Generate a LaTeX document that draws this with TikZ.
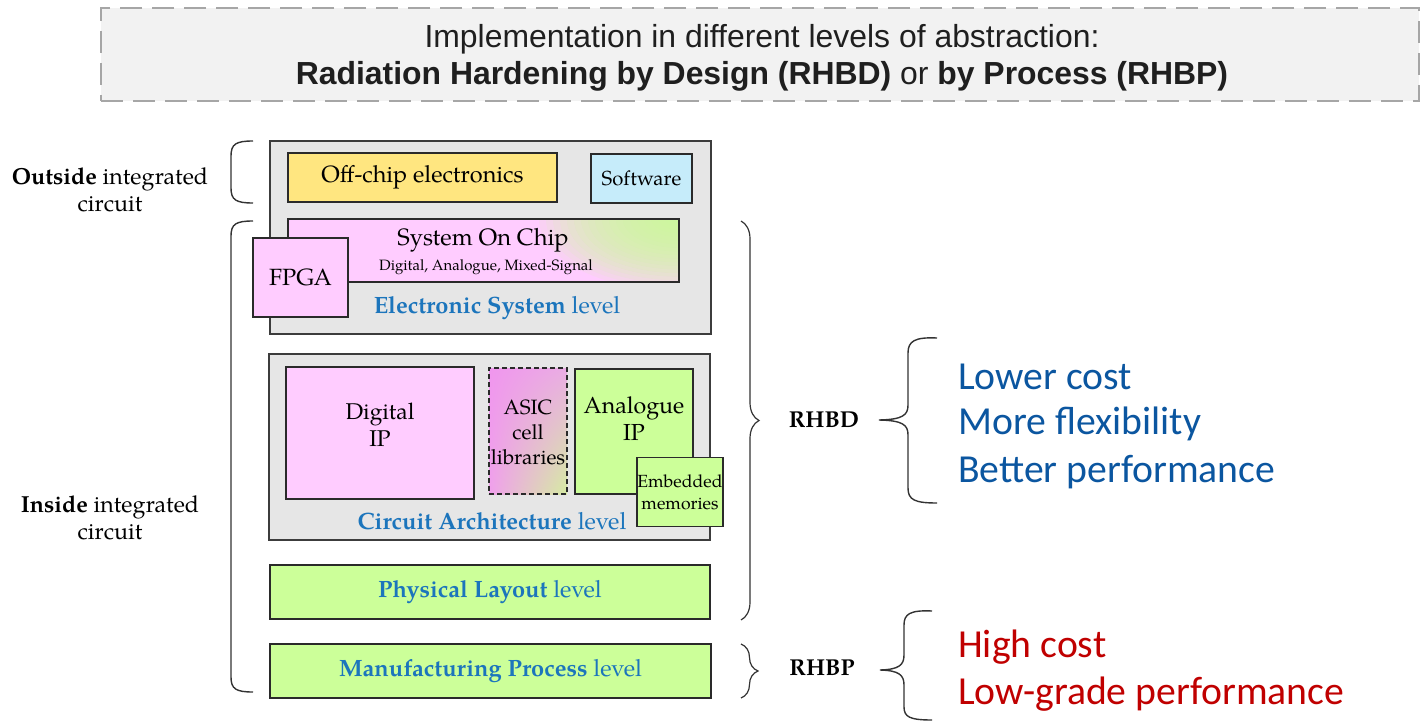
\documentclass[tikz,border=0pt]{standalone}
\usepackage{fontspec}
\setmainfont{TeX Gyre Pagella}
\newfontfamily\arialfont{Liberation Sans}
\newfontfamily\calibrifont{Carlito}
\usetikzlibrary{decorations.pathreplacing, shadings}

\definecolor{bannerfill}{HTML}{F2F2F2}
\definecolor{bannerdash}{HTML}{A6A6A6}
\definecolor{panelgray}{HTML}{E6E6E6}
\definecolor{panelline}{HTML}{3C3C3C}
\definecolor{blockline}{HTML}{2A2A2A}
\definecolor{offyellow}{HTML}{FFE680}
\definecolor{swblue}{HTML}{C6ECFA}
\definecolor{ippink}{HTML}{FFCCFF}
\definecolor{ipgreen}{HTML}{CCFF99}
\definecolor{asicul}{RGB}{240,150,238}
\definecolor{asicll}{RGB}{240,160,236}
\definecolor{asicur}{RGB}{234,172,228}
\definecolor{asiclr}{RGB}{214,236,162}
\definecolor{levelblue}{HTML}{1C75BC}
\definecolor{problue}{RGB}{11,86,160}
\definecolor{conred}{RGB}{192,0,0}
\definecolor{bracecol}{HTML}{333333}

\begin{document}
\begin{tikzpicture}[x=1pt,y=-1pt,
  panel/.style={draw=panelline, line width=1.3pt, fill=panelgray, inner sep=0pt},
  block/.style={draw=blockline, line width=1.5pt, inner sep=0pt},
  paltext/.style={font=\fontsize{23.5}{27}\selectfont, inner sep=0pt},
  lvltext/.style={text=levelblue, font=\fontsize{23.6}{27}\selectfont, inner sep=0pt},
  sidetext/.style={font=\fontsize{23.2}{27}\selectfont, align=center, inner sep=0pt},
  bracepath/.style={draw=bracecol, line width=1.4pt},
  pros/.style={text=problue, anchor=west, font=\calibrifont\fontsize{39.7}{44}\selectfont, inner sep=0pt},
  cons/.style={text=conred, anchor=west, font=\calibrifont\fontsize{39.7}{44}\selectfont, inner sep=0pt},
  method/.style={font=\bfseries\fontsize{23}{27}\selectfont, inner sep=0pt}]

\useasboundingbox (0,0) rectangle (1421,722);

% title banner
\node[draw=bannerdash, line width=2pt, dash pattern=on 22pt off 10pt, fill=bannerfill,
      minimum width=1318pt, minimum height=93pt, inner sep=0pt] (banner) at (760,54.5) {};
\node[font=\arialfont\fontsize{31.9}{37}\selectfont, align=center, text=black!88, inner sep=0pt] (title) at (762,58)
  {Implementation in different levels of abstraction:\\
   \textbf{Radiation Hardening by Design (RHBD)} or \textbf{by Process (RHBP)}};

% left side braces and labels
\draw[bracepath] (253,141) .. controls (236,141) and (231,144) .. (231,156) -- (231,188)
  .. controls (231,200) and (236,203) .. (253,203);
\draw[bracepath] (253,221) .. controls (236,221) and (231,224) .. (231,236) -- (231,677)
  .. controls (231,689) and (236,692) .. (253,692);
\node[sidetext] (outside) at (110,190) {\textbf{Outside} integrated\\circuit};
\node[sidetext] (inside) at (110,518) {\textbf{Inside} integrated\\circuit};

% electronic system level
\node[panel, minimum width=441pt, minimum height=193pt] (esys) at (490.5,237.5) {};
\node[block, fill=offyellow, minimum width=269pt, minimum height=49pt, paltext] (offchip) at (422.5,177.5) {Off-chip electronics};
\node[block, fill=swblue, minimum width=101pt, minimum height=49pt, font=\fontsize{20.3}{24}\selectfont] (software) at (641.5,178.5) {Software};
% system on chip: pink, blending into green at its upper right corner
\node[block, fill=ippink, minimum width=391pt, minimum height=63pt,
  path picture={\foreach \r in {1,...,20}
    \fill[ipgreen, opacity=0.11] (path picture bounding box.north east) ellipse [x radius=\r*7pt, y radius=\r*3.6pt];}] (soc) at (483.5,250.5) {};
\node[paltext, font=\fontsize{23.7}{27}\selectfont] (soctitle) at (483,240) {System On Chip};
\node[font=\fontsize{15}{18}\selectfont, inner sep=0pt] (socsub) at (486,267) {Digital, Analogue, Mixed-Signal};
\node[block, fill=ippink, minimum width=95pt, minimum height=79pt, paltext] (fpga) at (300.5,277.5) {FPGA};
\node[lvltext] (esyslabel) at (497,308) {\textbf{Electronic System} level};

% circuit architecture level
\node[panel, minimum width=441pt, minimum height=186pt] (carch) at (489.5,447) {};
\node[block, fill=ippink, minimum width=188pt, minimum height=132pt] (digip) at (380,433) {};
\node[paltext, align=center, font=\fontsize{22.8}{27}\selectfont] (digtext) at (380,425) {Digital\\IP};
\node[block, dashed, dash pattern=on 5pt off 3pt, minimum width=78pt, minimum height=126pt,
  upper left=asicul, lower left=asicll, upper right=asicur, lower right=asiclr] (asic) at (528,431) {};
\node[font=\fontsize{20.7}{25}\selectfont, align=center, inner sep=0pt] (asictext) at (528,432) {ASIC\\cell\\libraries};
\node[block, fill=ipgreen, minimum width=118pt, minimum height=125pt] (anaip) at (634,431.5) {};
\node[paltext, align=center, font=\fontsize{23.2}{27}\selectfont] (anatext) at (634,418.5) {Analogue\\IP};
\node[block, fill=ipgreen, minimum width=86pt, minimum height=69pt, align=center,
  font=\fontsize{17.6}{22}\selectfont] (embmem) at (680,492) {Embedded\\memories};
\node[lvltext] (calabel) at (492,521) {\textbf{Circuit Architecture} level};

% physical layout and manufacturing levels
\node[block, fill=ipgreen, minimum width=440pt, minimum height=54pt, lvltext] (layout) at (490,592) {\textbf{Physical Layout} level};
\node[block, fill=ipgreen, minimum width=441pt, minimum height=54pt, lvltext] (manuf) at (490.5,671) {\textbf{Manufacturing Process} level};

% hardening approaches
\draw[bracepath, line width=1.2pt, decorate, decoration={brace, amplitude=18pt}] (741,221) -- (741,620);
\draw[bracepath, line width=1.2pt, decorate, decoration={brace, amplitude=17pt}] (741,644) -- (741,698);
\node[method] (rhbd) at (824,420) {RHBD};
\node[method] (rhbp) at (822,668) {RHBP};

% properties of each approach
\draw[bracepath] (937,338) .. controls (915,337) and (908,341) .. (908,353) -- (908,405)
  .. controls (908,415) and (903,419.5) .. (879,420)
  .. controls (903,420.5) and (908,425) .. (908,435) -- (908,488)
  .. controls (908,500) and (915,503) .. (937,503);
\draw[bracepath] (932,611) .. controls (910,610) and (904,614) .. (904,625) -- (904,655)
  .. controls (904,665) and (899,669.5) .. (880,670)
  .. controls (899,670.5) and (904,675) .. (904,685) -- (904,707)
  .. controls (904,717) and (910,720) .. (932,720);
\node[pros] (cost) at (958,377) {Lower cost};
\node[pros] (flex) at (958,424) {More flexibility};
\node[pros] (perf) at (958,472) {Better performance};
\node[cons] (high) at (958,647) {High cost};
\node[cons] (low) at (958,694) {Low-grade performance};
\end{tikzpicture}
\end{document}
